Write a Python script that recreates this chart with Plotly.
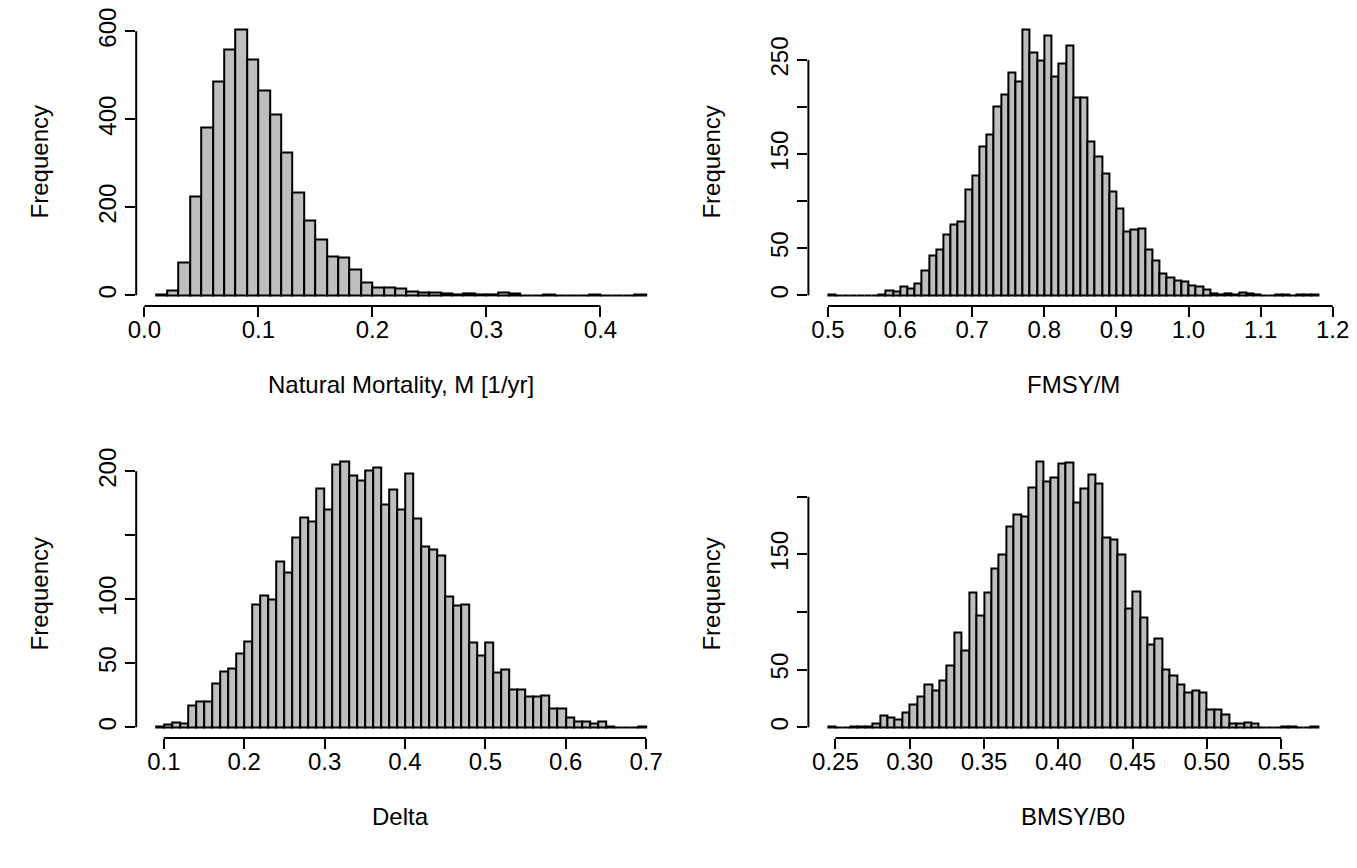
import numpy as np
import plotly.graph_objects as go

W, H = 1357, 868

# ---------------- data (histogram counts) ----------------
m_start, m_width = 0.01, 0.01
m_counts = [3, 11, 76, 224, 381, 485, 558, 605, 536, 466,
            410, 324, 234, 171, 127, 88, 86, 59, 30, 19,
            17, 15, 10, 6, 6, 4, 2, 5, 2, 2,
            6, 4, 1, 1, 2, 1, 0, 1, 2, 0,
            1, 0, 2]
m_xticks = [0.0, 0.1, 0.2, 0.3, 0.4]
m_xticktext = ["0.0", "0.1", "0.2", "0.3", "0.4"]
m_yticks = [0, 200, 400, 600]
m_yticktext = ["0", "200", "400", "600"]

f_start, f_width = 0.50, 0.01
f_counts = [1, 0, 0, 0, 0, 0, 0, 1, 5, 4,
            9, 7, 13, 26, 42, 49, 65, 75, 79, 113,
            127, 158, 171, 201, 214, 237, 227, 283, 258, 250,
            276, 233, 246, 266, 210, 210, 164, 148, 130, 111,
            92, 68, 70, 71, 49, 37, 23, 19, 16, 15,
            11, 9, 6, 2, 1, 2, 1, 3, 2, 1,
            0, 0, 1, 1, 0, 1, 1, 1]
f_xticks = [0.5, 0.6, 0.7, 0.8, 0.9, 1.0, 1.1, 1.2]
f_xticktext = ["0.5", "0.6", "0.7", "0.8", "0.9", "1.0", "1.1", "1.2"]
f_yticks = [0, 50, 100, 150, 200, 250]
f_yticktext = ["0", "50", "", "150", "", "250"]

d_start, d_width = 0.09, 0.01
d_counts = [1, 2, 4, 3, 17, 20, 20, 34, 44, 46,
            58, 67, 96, 103, 100, 130, 121, 148, 164, 161,
            187, 170, 205, 208, 197, 193, 201, 203, 174, 186,
            170, 198, 163, 141, 139, 134, 102, 95, 96, 66,
            56, 66, 43, 45, 30, 30, 24, 24, 25, 15,
            15, 8, 5, 5, 3, 5, 1, 0, 0, 0,
            1]
d_xticks = [0.1, 0.2, 0.3, 0.4, 0.5, 0.6, 0.7]
d_xticktext = ["0.1", "0.2", "0.3", "0.4", "0.5", "0.6", "0.7"]
d_yticks = [0, 50, 100, 150, 200]
d_yticktext = ["0", "50", "100", "", "200"]

b_start, b_width = 0.245, 0.005
b_counts = [1, 0, 0, 1, 1, 1, 3, 10, 9, 7,
            13, 20, 27, 37, 32, 41, 54, 82, 67, 117,
            97, 117, 138, 150, 174, 185, 183, 208, 231, 213,
            217, 229, 230, 195, 207, 219, 212, 165, 163, 150,
            103, 118, 95, 72, 77, 50, 45, 37, 30, 32,
            30, 16, 16, 11, 3, 3, 4, 3, 0, 0,
            0, 1, 1, 0, 0, 1]
b_xticks = [0.25, 0.30, 0.35, 0.40, 0.45, 0.50, 0.55]
b_xticktext = ["0.25", "0.30", "0.35", "0.40", "0.45", "0.50", "0.55"]
b_yticks = [0, 50, 100, 150, 200]
b_yticktext = ["0", "50", "", "150", ""]

panels = [
    dict(start=m_start, width=m_width, counts=m_counts, xt=m_xticks, xtt=m_xticktext,
         yt=m_yticks, ytt=m_yticktext, xlabel="Natural Mortality, M [1/yr]", row=0, col=0),
    dict(start=f_start, width=f_width, counts=f_counts, xt=f_xticks, xtt=f_xticktext,
         yt=f_yticks, ytt=f_yticktext, xlabel="FMSY/M", row=0, col=1),
    dict(start=d_start, width=d_width, counts=d_counts, xt=d_xticks, xtt=d_xticktext,
         yt=d_yticks, ytt=d_yticktext, xlabel="Delta", row=1, col=0),
    dict(start=b_start, width=b_width, counts=b_counts, xt=b_xticks, xtt=b_xticktext,
         yt=b_yticks, ytt=b_yticktext, xlabel="BMSY/B0", row=1, col=1),
]

# ---------------- layout geometry (pixels) ----------------
col_px = [(136.2, 665.7), (808.4, 1337.9)]
row_px = [(18.4, 306.0), (450.4, 738.0)]

FONT = "Liberation Sans, Arial, Helvetica, sans-serif"
FS = 24
LW = 2

fig = go.Figure()
shapes = []
annotations = []
layout = {}

for i, p in enumerate(panels):
    sfx = "" if i == 0 else str(i + 1)
    xa, ya = "x" + sfx, "y" + sfx
    counts = np.array(p["counts"], dtype=float)
    n = len(counts)
    w = p["width"]
    edges = np.round(p["start"] + w * np.arange(n + 1), 6)
    centers = edges[:-1] + w / 2

    fig.add_trace(go.Bar(
        x=centers, y=counts, width=w,
        marker=dict(color="#bebebe", line=dict(color="black", width=LW)),
        xaxis=xa, yaxis=ya, showlegend=False, hoverinfo="x+y"))

    lo, hi = edges[0], edges[-1]
    pad = 0.04 * (hi - lo)
    ymax = counts.max()
    x0p, x1p = col_px[p["col"]]
    y0p, y1p = row_px[p["row"]]

    layout["xaxis" + sfx] = dict(
        domain=[x0p / W, x1p / W], range=[lo - pad, hi + pad], anchor=ya,
        tickmode="array", tickvals=p["xt"], ticktext=p["xtt"],
        ticks="outside", ticklen=10, tickwidth=LW, tickcolor="black",
        showgrid=False, zeroline=False, showline=False, automargin=False,
        ticklabeloverflow="allow",
        tickfont=dict(family=FONT, size=FS, color="black"), ticklabelstandoff=-8)
    layout["yaxis" + sfx] = dict(
        domain=[1 - y1p / H, 1 - y0p / H], range=[-0.04 * ymax, 1.04 * ymax], anchor=xa,
        tickmode="array", tickvals=p["yt"], ticktext=p["ytt"],
        ticks="outside", ticklen=10, tickwidth=LW, tickcolor="black",
        showgrid=False, zeroline=False, showline=False, tickangle=-90, automargin=False,
        ticklabeloverflow="allow",
        tickfont=dict(family=FONT, size=FS, color="black"), ticklabelstandoff=0)

    # R-style axis lines spanning only the tick range
    shapes.append(dict(type="line", xref=xa, yref=ya + " domain",
                       x0=p["xt"][0], x1=p["xt"][-1], y0=0, y1=0,
                       line=dict(color="black", width=LW)))
    shapes.append(dict(type="line", xref=xa + " domain", yref=ya,
                       x0=0, x1=0, y0=p["yt"][0], y1=p["yt"][-1],
                       line=dict(color="black", width=LW)))

    annotations.append(dict(text=p["xlabel"], xref=xa + " domain", yref=ya + " domain",
                            x=0.5, y=0, yshift=-78, xanchor="center", yanchor="middle",
                            showarrow=False, font=dict(family=FONT, size=FS, color="black")))
    annotations.append(dict(text="Frequency", xref=xa + " domain", yref=ya + " domain",
                            x=0, y=0.5, xshift=-97, xanchor="center", yanchor="middle",
                            textangle=-90, showarrow=False,
                            font=dict(family=FONT, size=FS, color="black")))

fig.update_layout(
    width=W, height=H,
    margin=dict(l=0, r=0, t=0, b=0, autoexpand=False),
    paper_bgcolor="white", plot_bgcolor="white",
    bargap=0, shapes=shapes, annotations=annotations,
    **layout)

fig.write_html("out.html", config={"displayModeBar": False},
               post_script="document.body.style.margin='0';document.body.style.overflow='hidden';")
